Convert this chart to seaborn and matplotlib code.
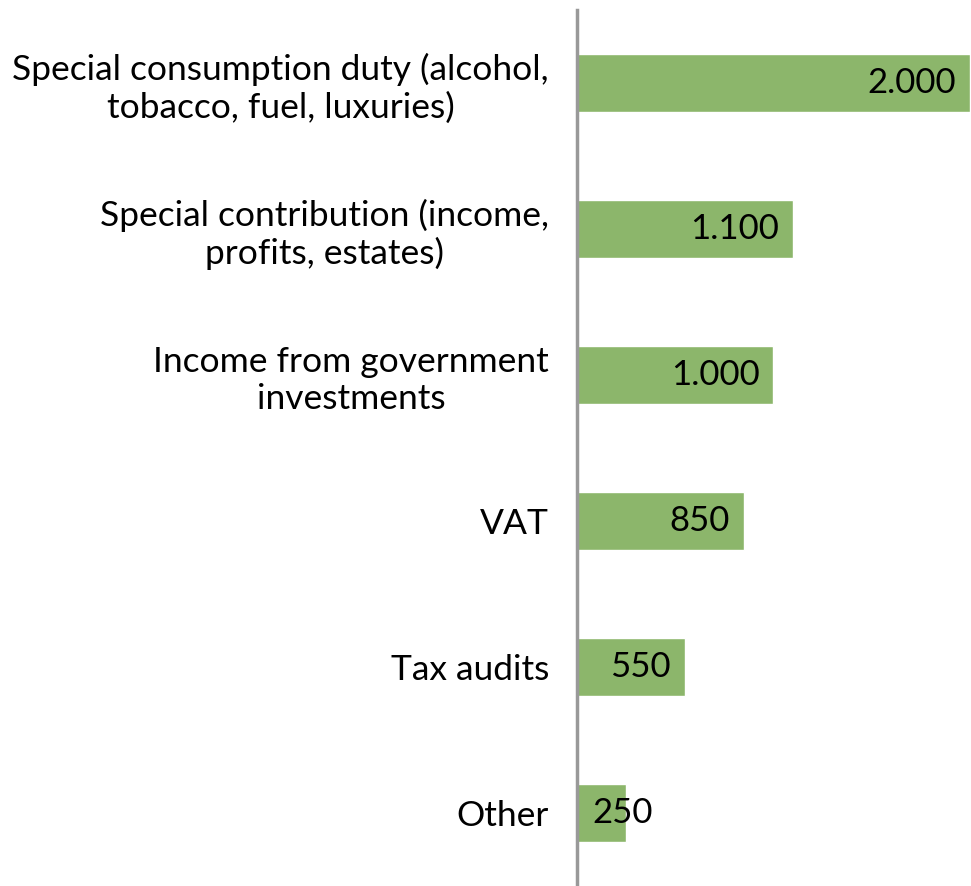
import pandas as pd
import matplotlib.pyplot as plt
import seaborn as sns

# Categories and values
categories = ['Special consumption duty (alcohol,\ntobacco, fuel, luxuries)',
              'Special contribution (income,\nprofits, estates)',
              'Income from government\ninvestments',
              'VAT',
              'Tax audits',
              'Other']
values = [2000, 1100, 1000, 850, 550, 250]
value_labels = ['2.000', '1.100', '1.000', '850', '550', '250']

df = pd.DataFrame({'category': categories, 'value': values})

sns.set_style('white')
plt.rcParams['font.family'] = ['Lato', 'DejaVu Sans']

fig = plt.figure(figsize=(9.71, 8.86), dpi=100)
ax = fig.add_axes([0.594, 0.0, 0.405, 0.989])

sns.barplot(data=df, x='value', y='category', orient='h', color='#8CB66B',
            width=0.4, saturation=1, ax=ax)

ax.set_xlim(0, 2000)
ax.set_ylim(5.5, -0.5)
ax.set_xlabel('')
ax.set_ylabel('')
ax.set_xticks([])

for side in ['top', 'right', 'bottom']:
    ax.spines[side].set_visible(False)
ax.spines['left'].set_color('#999999')
ax.spines['left'].set_linewidth(2.5)

ax.tick_params(axis='y', length=0, pad=20, labelsize=25.5, labelcolor='black')
for lbl in ax.get_yticklabels():
    lbl.set_multialignment('center')

# Value labels near the end of each bar; short bars get the label from the axis
for i, (v, txt) in enumerate(zip(values, value_labels)):
    if v < 400:
        ax.annotate(txt, xy=(0, i), xytext=(11, 0), textcoords='offset points',
                    ha='left', va='center', fontsize=25, color='black',
                    annotation_clip=False)
    else:
        ax.annotate(txt, xy=(v, i), xytext=(-10, 0), textcoords='offset points',
                    ha='right', va='center', fontsize=25, color='black',
                    annotation_clip=False)

plt.savefig('out.png', dpi=100)
